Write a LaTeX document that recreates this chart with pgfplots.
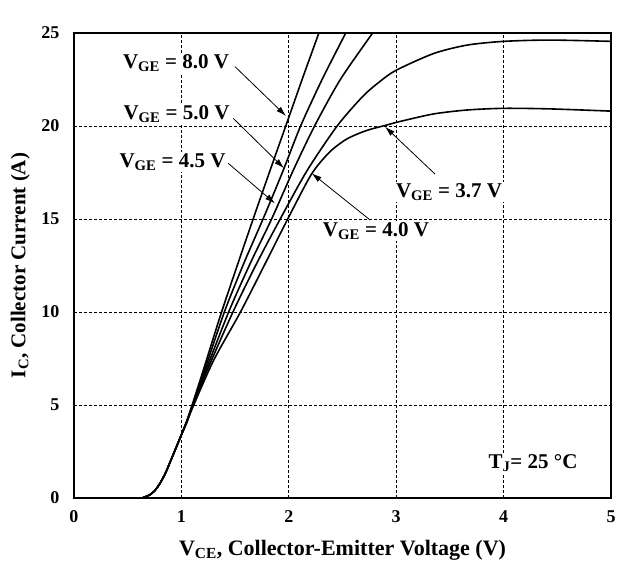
\documentclass[border=0pt]{standalone}
\usepackage{fontspec}
\setmainfont{Liberation Serif}
\usepackage{pgfplots}
\pgfplotsset{compat=1.18}
\usetikzlibrary{arrows.meta}

\begin{document}
\begin{tikzpicture}[font=\bfseries]
\useasboundingbox (-74pt,-71pt) rectangle (546pt,498pt);
\begin{axis}[
    at={(0,0)}, anchor=south west,
    scale only axis,
    width=537pt, height=465pt,
    xmin=0, xmax=5, ymin=0, ymax=25,
    xtick={0,1,2,3,4,5}, ytick={0,5,10,15,20,25},
    major tick length=0pt,
    grid=major,
    major grid style={black, line width=0.7pt, dash pattern=on 3pt off 2pt},
    axis line style={line width=1.8pt},
    /pgf/number format/assume math mode=true,
    tick label style={font=\fontsize{18}{18}\selectfont\bfseries},
    xticklabel style={yshift=-9pt},
    yticklabel style={xshift=-11pt},
    xlabel={V\textsubscript{CE}, Collector-Emitter Voltage (V)},
    ylabel={I\textsubscript{C}, Collector Current (A)},
    label style={font=\fontsize{21}{21}\selectfont\bfseries},
    xlabel style={at={(axis description cs:0.5,-0.112)}, anchor=center,
      font=\fontsize{22}{22}\selectfont\bfseries},
    ylabel style={at={(axis description cs:-0.100,0.5)}, anchor=center},
    curve/.style={black, line width=1.6pt, no markers, smooth, tension=0.45},
]
% V_GE = 8.0 V
\addplot[curve] coordinates {(0,0) (0.60,0) (0.65,0.04) (0.70,0.15) (0.75,0.38) (0.80,0.78)
  (0.85,1.32) (0.90,2.0) (0.95,2.7) (1.00,3.4) (1.05,4.15) (1.10,5.0) (1.20,6.8)
  (1.36,9.75) (1.52,12.5) (1.68,15.2) (1.84,17.85) (1.99,20.3) (2.13,22.6) (2.28,25.0) (2.34,26.0)};
% V_GE = 5.0 V
\addplot[curve] coordinates {(0,0) (0.60,0) (0.65,0.04) (0.70,0.15) (0.75,0.38) (0.80,0.78)
  (0.85,1.32) (0.90,2.0) (0.95,2.7) (1.00,3.4) (1.05,4.12) (1.10,4.95) (1.20,6.6)
  (1.40,10.0) (1.58,12.6) (1.76,15.0) (1.94,17.5) (2.11,20.0) (2.31,22.5) (2.53,25.0) (2.60,25.8)};
% V_GE = 4.5 V
\addplot[curve] coordinates {(0,0) (0.60,0) (0.65,0.04) (0.70,0.15) (0.75,0.38) (0.80,0.78)
  (0.85,1.32) (0.90,2.0) (0.95,2.7) (1.00,3.4) (1.05,4.1) (1.10,4.9) (1.20,6.45)
  (1.44,10.0) (1.64,12.6) (1.84,15.0) (2.04,17.6) (2.24,20.0) (2.48,22.5) (2.78,25.0) (2.86,25.7)};
% V_GE = 4.0 V
\addplot[curve] coordinates {(0,0) (0.60,0) (0.65,0.04) (0.70,0.15) (0.75,0.38) (0.80,0.78)
  (0.85,1.32) (0.90,2.0) (0.95,2.7) (1.00,3.4) (1.05,4.08) (1.10,4.85) (1.25,7.0)
  (1.48,10.0) (1.70,12.6) (1.92,15.0) (2.17,17.6) (2.45,20.0) (2.69,21.6) (2.85,22.4)
  (3.00,23.0) (3.35,23.9) (3.66,24.35) (4.00,24.55) (4.43,24.62) (5.00,24.55)};
% V_GE = 3.7 V
\addplot[curve] coordinates {(0,0) (0.60,0) (0.65,0.04) (0.70,0.15) (0.75,0.38) (0.80,0.78)
  (0.85,1.32) (0.90,2.0) (0.95,2.7) (1.00,3.4) (1.05,4.05) (1.10,4.8) (1.30,7.4)
  (1.55,10.0) (1.78,12.6) (1.99,15.0) (2.21,17.4) (2.38,18.6) (2.54,19.3) (2.72,19.75)
  (2.91,20.05) (3.04,20.25) (3.35,20.65) (3.66,20.86) (4.00,20.95) (4.43,20.92) (5.00,20.8)};

% annotations
\begin{scope}[every node/.style={fill=white, inner sep=1.5pt, font=\fontsize{21}{21}\selectfont\bfseries},
  arr/.style={-{Latex[length=10pt,width=6pt]}, line width=0.8pt}]
\draw[arr] (axis cs:1.499,23.19) -- (axis cs:1.974,20.54);
\draw[arr] (axis cs:1.483,20.41) -- (axis cs:1.955,17.73);
\draw[arr] (axis cs:1.437,17.99) -- (axis cs:1.871,15.84);
\draw[arr] (axis cs:2.756,14.95) -- (axis cs:2.213,17.46);
\draw[arr] (axis cs:3.361,17.42) -- (axis cs:2.896,19.96);
\node at (axis cs:0.950,23.39) {V\textsubscript{GE} = 8.0 V};
\node at (axis cs:0.955,20.65) {V\textsubscript{GE} = 5.0 V};
\node at (axis cs:0.918,18.04) {V\textsubscript{GE} = 4.5 V};
\node at (axis cs:2.812,14.35) {V\textsubscript{GE} = 4.0 V};
\node at (axis cs:3.492,16.45) {V\textsubscript{GE} = 3.7 V};
\node at (axis cs:4.274,1.88) {T\textsubscript{J}= 25 °C};
\end{scope}
\end{axis}
\end{tikzpicture}
\end{document}
